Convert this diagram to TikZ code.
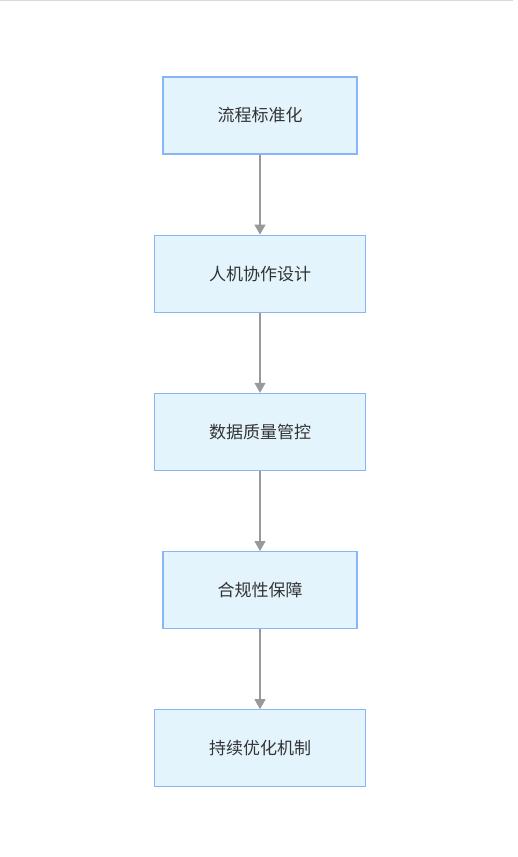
\documentclass[tikz,border=0pt]{standalone}
\usepackage{fontspec}
\setmainfont{Noto Sans CJK SC}
\usepackage{xcolor}
\usepackage{tikz}
\usetikzlibrary{arrows.meta,positioning}

\definecolor{boxfill}{HTML}{E4F4FD}
\definecolor{boxline}{HTML}{8AB4F8}
\definecolor{linkgray}{HTML}{999999}
\definecolor{textgray}{HTML}{333333}

\begin{document}
\begin{tikzpicture}[x=1pt,y=1pt,
  stage/.style={draw=boxline,fill=boxfill,line width=1.2pt,inner xsep=54.5pt,
    minimum height=77pt,text=textgray,font=\fontsize{17pt}{19pt}\selectfont},
  to/.style={-{Triangle[length=10pt,width=11pt]},draw=linkgray,fill=linkgray!120!black,line width=1.2pt},
  node distance=80pt]

    \useasboundingbox (0,0) rectangle (517,-857);
    \draw[line width=1pt,black!15] (0,-0.5) -- (513,-0.5);

    \node[stage](std) at (260,-115.5){流程标准化};
    \node[stage,below=of std](collab){人机协作设计};
    \node[stage,below=of collab](quality){数据质量管控};
    \node[stage,below=of quality](comply){合规性保障};
    \node[stage,below=of comply](improve){持续优化机制};

    \draw[to](std) -- (collab);
    \draw[to](collab) -- (quality);
    \draw[to](quality) -- (comply);
    \draw[to](comply) -- (improve);
\end{tikzpicture}
\end{document}
